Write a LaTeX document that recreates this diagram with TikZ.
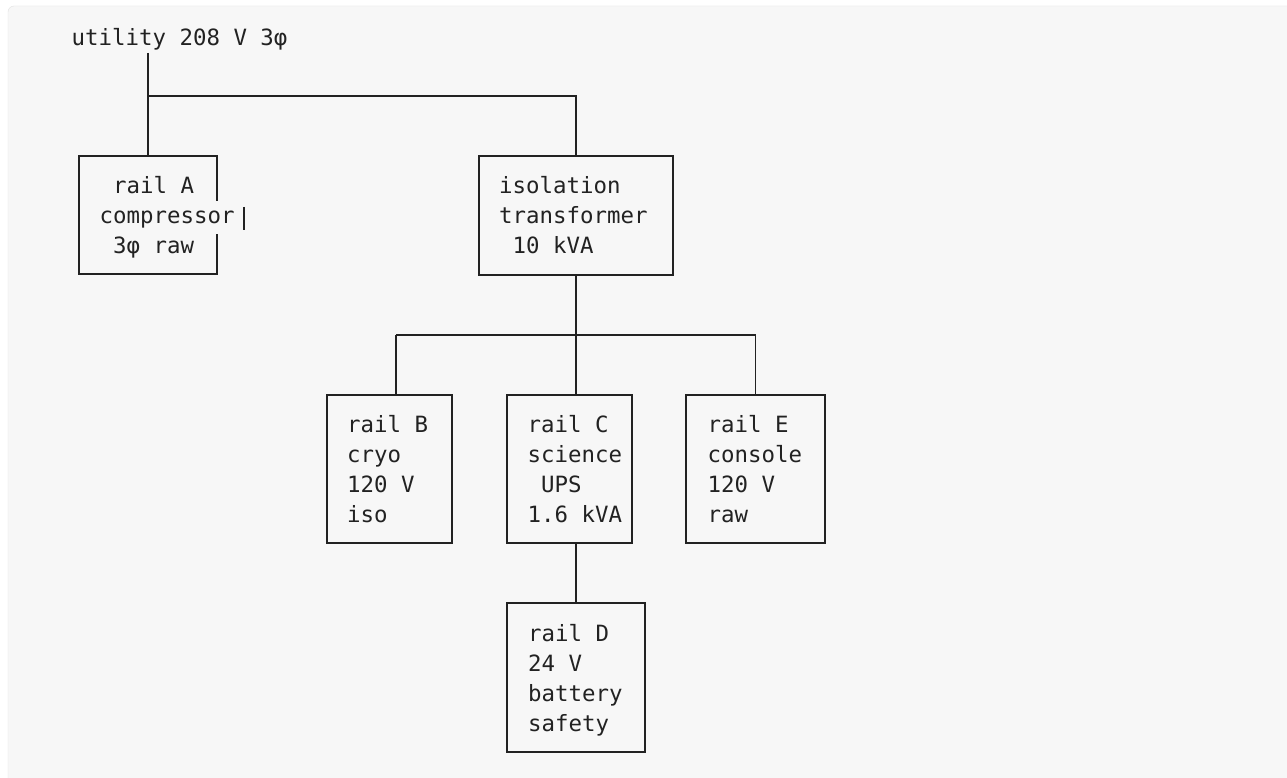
\documentclass[tikz,border=0pt]{standalone}
\usepackage{fontspec}
\setmonofont{DejaVu Sans Mono}
\usetikzlibrary{positioning,calc}

\definecolor{pagebg}{HTML}{F7F7F7}
\definecolor{pageedge}{HTML}{E2E2E2}
\definecolor{ink}{HTML}{222222}

\newcommand*{\cellgap}{\hphantom{x}}

\begin{document}
\begin{tikzpicture}
[
	x=1pt,y=-1pt,
	railbox/.style={draw=ink,line width=1.8pt,inner sep=0pt,outer sep=0pt,anchor=north west},
	railtext/.style={anchor=base west,inner sep=0pt,align=left,text=ink,
		font=\ttfamily\fontsize{22.4}{30}\selectfont},
	wire/.style={draw=ink,line width=1.8pt}
]

	% page
	\useasboundingbox (0,0) rectangle (1287,778);
	\fill[white] (0,0) rectangle (1287,778);
	\filldraw[fill=pagebg,draw=pageedge,rounded corners=6pt] (8,6) rectangle (1310,800);

	% supply
	\node[railtext] (utility) at (71.5,46) {utility 208 V 3φ};

	% boxes
	\node[railbox,draw=none,minimum width=138,minimum height=118] (railA) at (79,156) {};
	\node[railbox,minimum width=194,minimum height=119] (isoT) at (479,156) {};
	\node[railbox,minimum width=125,minimum height=148] (railB) at (327,395) {};
	\node[railbox,minimum width=125,minimum height=148] (railC) at (507,395) {};
	\node[railbox,minimum width=139,minimum height=148] (railE) at (686,395) {};
	\node[railbox,minimum width=138,minimum height=149] (railD) at (507,603) {};

	% rail A outline, its right side pushed out beside "compressor"
	\draw[wire,line cap=rect] ([yshift=-44]railA.north east) -- (railA.north east)
		-- (railA.north west) -- (railA.south west) -- (railA.south east)
		-- ([yshift=39]railA.south east);
	\draw[wire] ([xshift=27,yshift=-51]railA.north east) -- ([xshift=27,yshift=-74]railA.north east);

	% box texts (anchored on the baseline of the last line)
	\node[railtext] at ([shift={(20.5,97.5)}]railA.north west)
		{\cellgap rail A\\compressor\\\cellgap 3φ raw};
	\node[railtext] at ([shift={(20,97.5)}]isoT.north west)
		{isolation\\transformer\\\cellgap 10 kVA};
	\node[railtext] at ([shift={(20,127)}]railB.north west)
		{rail B\\cryo\\120 V\\iso};
	\node[railtext] at ([shift={(20.5,127)}]railC.north west)
		{rail C\\science\\\cellgap UPS\\1.6 kVA};
	\node[railtext] at ([shift={(21.5,127)}]railE.north west)
		{rail E\\console\\120 V\\raw};
	\node[railtext] at ([shift={(21,128)}]railD.north west)
		{rail D\\24 V\\battery\\safety};

	% wiring
	\coordinate (busA) at (148,96);
	\coordinate (busB) at (576,335);
	\coordinate (dropB) at ([xshift=6.5]railB.north);

	\draw[wire] ([yshift=-53]railA.north |- 0,0) -- (railA.north);
	\draw[wire] (railA.north |- busA) -| (isoT.north);
	\draw[wire] (isoT.south) -- (isoT.south |- railC.north);
	\draw[wire] (dropB |- busB) -| (railE.north);
	\draw[wire] (dropB |- busB) -- (dropB);
	\draw[wire] (railD.north |- railC.south) -- (railD.north);

\end{tikzpicture}
\end{document}
